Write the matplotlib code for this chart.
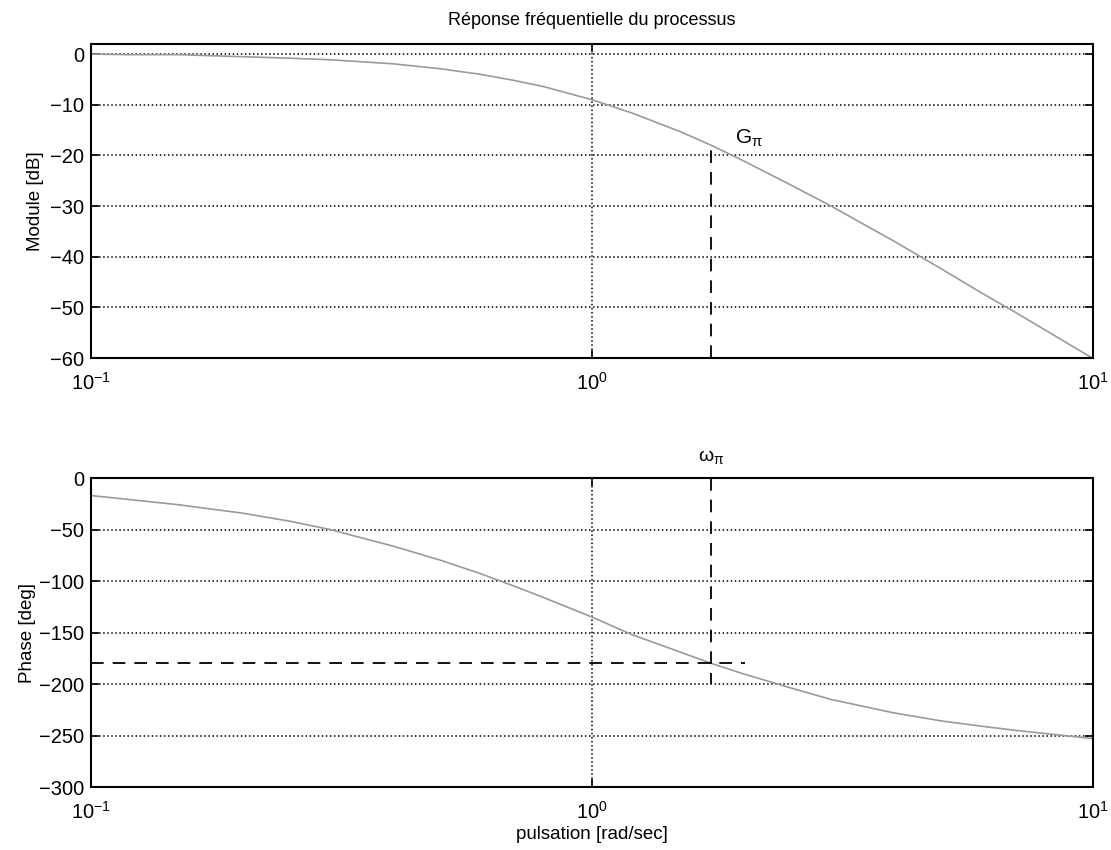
import matplotlib
matplotlib.use("Agg")
import matplotlib.pyplot as plt
from matplotlib.ticker import FixedLocator, FixedFormatter, NullLocator

plt.rcParams['font.family'] = ['Liberation Sans', 'DejaVu Sans']
plt.rcParams['mathtext.default'] = 'regular'

# --- values ---
w = [0.1, 0.12, 0.15, 0.2, 0.25, 0.3, 0.4, 0.5, 0.6, 0.7, 0.8, 1.0, 1.2, 1.5, 1.73,
     2.0, 2.5, 3.0, 4.0, 5.0, 6.0, 7.0, 8.0, 10.0]
mag_db = [0.0, -0.1, -0.1, -0.5, -0.8, -1.1, -1.9, -2.9, -4.0, -5.2, -6.4, -9.0, -11.6,
          -15.3, -18.0, -21.0, -25.9, -30.0, -36.9, -42.5, -47.2, -51.0, -54.4, -60.1]
phase_deg = [-17, -21, -26, -34, -42, -50, -66, -80, -93, -105, -116, -135, -152,
             -169, -180, -190, -204, -215, -228, -236, -241, -245, -248, -253]

w_pi = 1.73
g_pi = -17.5
phase_pi = -180
h_line_end = 2.02

xticks = [0.1, 1, 10]
xticklabels = ['$10^{-1}$', '$10^{0}$', '$10^{1}$']
mag_ticks = [0, -10, -20, -30, -40, -50, -60]
phase_ticks = [0, -50, -100, -150, -200, -250, -300]

fig = plt.figure(figsize=(11.11, 8.5), dpi=100)
ax1 = fig.add_axes([0.0819, 0.5788, 0.902, 0.3694])
ax2 = fig.add_axes([0.0819, 0.0741, 0.902, 0.3635])

curve_color = '#9a9a9a'

for ax in (ax1, ax2):
    ax.set_xscale('log')
    ax.set_xlim(0.1, 10)
    ax.xaxis.set_major_locator(FixedLocator(xticks))
    ax.xaxis.set_major_formatter(FixedFormatter(xticklabels))
    ax.xaxis.set_minor_locator(NullLocator())
    ax.tick_params(direction='in', top=True, right=True, labelsize=14.5, length=6, width=1.2)
    ax.tick_params(axis='x', pad=10)
    ax.tick_params(axis='y', pad=5)
    ax.grid(True, linestyle=':', color='black', linewidth=1.1)
    for s in ax.spines.values():
        s.set_linewidth(1.5)

def minus(t):
    return '0' if t == 0 else '\u2212' + str(-t)

# --- magnitude ---
ax1.plot(w, mag_db, color=curve_color, linewidth=1.2)
ax1.plot([w_pi, w_pi], [-60, g_pi], color='black', linestyle=(0, (7, 5)), linewidth=1.3)
ax1.set_ylim(-60, 2)
ax1.set_yticks(mag_ticks)
ax1.set_yticklabels([minus(t) for t in mag_ticks])
ax1.set_ylabel('Module [dB]', fontsize=13.5, labelpad=4)
ax1.set_title('Réponse fréquentielle du processus', fontsize=13, pad=14)
ax1.text(1.93, -17.6, '$G_{\\pi}$', fontsize=15)

# --- phase ---
ax2.plot(w, phase_deg, color=curve_color, linewidth=1.2)
ax2.plot([w_pi, w_pi], [0, -200], color='black', linestyle=(0, (7, 5)), linewidth=1.3)
ax2.plot([0.1, h_line_end], [phase_pi, phase_pi], color='black', linestyle=(0, (7, 5)), linewidth=1.3)
ax2.set_ylim(-300, 0)
ax2.set_yticks(phase_ticks)
ax2.set_yticklabels([minus(t) for t in phase_ticks])
ax2.set_ylabel('Phase [deg]', fontsize=13.5, labelpad=2)
ax2.set_xlabel('pulsation [rad/sec]', fontsize=13.5, labelpad=2)
ax2.text(w_pi, 12, '$\\omega_{\\pi}$', fontsize=14, ha='center', va='bottom')

fig.savefig('out.png', dpi=100)
